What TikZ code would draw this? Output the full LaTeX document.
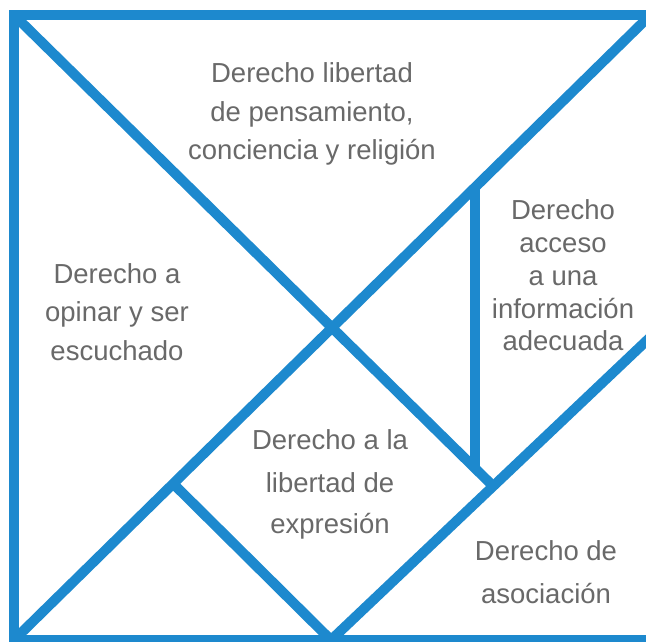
\documentclass[tikz,border=0pt]{standalone}
\usepackage{fontspec}
\setmainfont{Liberation Sans}
\definecolor{tanblue}{RGB}{29,137,206}
\definecolor{txtgray}{RGB}{105,105,105}
\begin{document}
\begin{tikzpicture}[x=1pt,y=-1pt,
  edge/.style={draw=tanblue,line width=10pt},
  lbl/.style={anchor=base,inner sep=0pt,text=txtgray,font=\fontsize{27.5}{32}\selectfont}]
\useasboundingbox (0,0) rectangle (646,641);
\fill[white] (0,0) rectangle (646,641);
% corner and key points
\coordinate (TL) at (14,15);
\coordinate (TR) at (650.5,15);
\coordinate (BR) at (650.5,640);
\coordinate (BL) at (14,640);
\coordinate (C) at (331.5,327.5);
\coordinate (BM) at (331,640);
\coordinate (RM) at (650.5,337);
\coordinate (S3) at (490,483);
\coordinate (VT) at (475,186);
\coordinate (VB) at (475,469);
\coordinate (L1) at (173,483.5);
% pieces
\draw[edge] (BL) -- (TR);
\draw[edge] (TL) -- (S3);
\draw[edge] (BM) -- (RM);
\draw[edge] (L1) -- (BM);
\draw[edge] (VT) -- (VB);
\draw[edge,line join=miter] (TL) rectangle (BR);
% labels
\node[lbl] (a1) at (312,82) {Derecho libertad};
\node[lbl] (a2) at (312,121) {de pensamiento,};
\node[lbl] (a3) at (312,159) {conciencia y religión};
\node[lbl] (b1) at (117,283) {Derecho a};
\node[lbl] (b2) at (117,321) {opinar y ser};
\node[lbl] (b3) at (117,360) {escuchado};
\node[lbl] (c1) at (563,219) {Derecho};
\node[lbl] (c2) at (563,252) {acceso};
\node[lbl] (c3) at (563,285) {a una};
\node[lbl] (c4) at (563,318) {información};
\node[lbl] (c5) at (563,350) {adecuada};
\node[lbl] (d1) at (330,449) {Derecho a la};
\node[lbl] (d2) at (330,492) {libertad de};
\node[lbl] (d3) at (330,533) {expresión};
\node[lbl] (e1) at (546,560) {Derecho de};
\node[lbl] (e2) at (546,603) {asociación};
\end{tikzpicture}
\end{document}
